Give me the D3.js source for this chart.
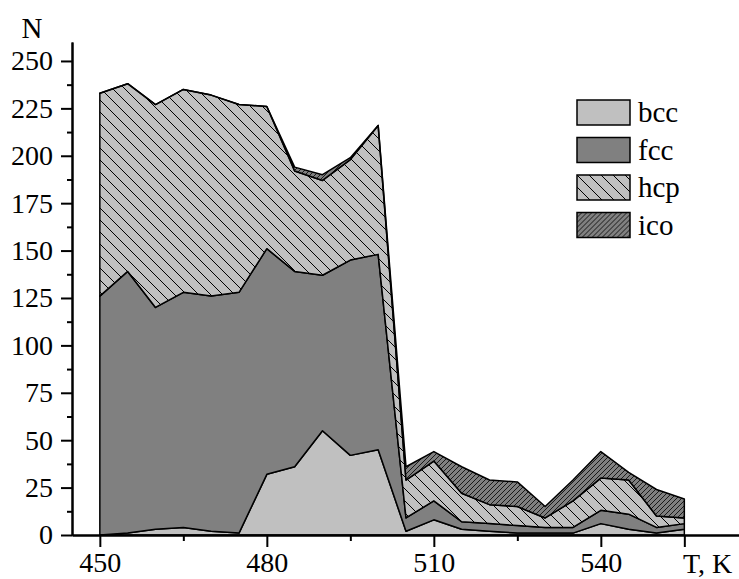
<!DOCTYPE html>
<html>
<head>
<meta charset="utf-8">
<script src="https://cdn.jsdelivr.net/npm/d3@7"></script>
<style>
body{margin:0;background:#fff;}
svg{display:block;}
text{font-family:"Liberation Serif","Times New Roman",serif;}
</style>
</head>
<body>
<svg id="chart"></svg>
<script>
//temperatures (K) and cluster counts per structure
var temps=[450,455,460,465,470,475,480,485,490,495,500,505,510,515,520,525,530,535,540,545,550,555]
var bcc=[0,1,3,4,2,1,32,36,55,42,45,2,8,3,2,1,1,1,6,3,1,3]
var fcc=[126,138,117,124,124,127,119,103,82,103,103,7,10,4,4,4,3,3,7,8,3,3]
var hcp=[107,99,107,107,106,99,75,53,50,53,68,20,21,15,10,10,5,14,17,18,6,3]
var ico=[0,0,0,0,0,0,0,2,3,1,0,7,5,14,13,13,6,11,14,4,14,10]

var phases=["bcc","fcc","hcp","ico"]
var yMajor=[0,25,50,75,100,125,150,175,200,225,250]
var yMinor=[12.5,37.5,62.5,87.5,112.5,137.5,162.5,187.5,212.5,237.5]
var xMajor=[450,480,510,540,555]
var xLabels=["450","480","510","540",""]
var xMinor=[465,495,525]

var screen={width:739,height:579}

var svg=d3.select("#chart")
    .attr("width",screen.width)
    .attr("height",screen.height)

//hatch patterns
var defs=svg.append("defs")
var hcpPat=defs.append("pattern")
    .attr("id","hcpHatch")
    .attr("patternUnits","userSpaceOnUse")
    .attr("width",12).attr("height",12)
hcpPat.append("rect").attr("width",12).attr("height",12).attr("fill","#c0c0c0")
hcpPat.append("path")
    .attr("d","M0,0L12,12M-2,10L2,14M10,-2L14,2")
    .attr("stroke","#000").attr("stroke-width",1)

var icoPat=defs.append("pattern")
    .attr("id","icoHatch")
    .attr("patternUnits","userSpaceOnUse")
    .attr("width",5).attr("height",5)
icoPat.append("rect").attr("width",5).attr("height",5).attr("fill","#808080")
icoPat.append("path")
    .attr("d","M0,5L5,0M-1,1L1,-1M4,6L6,4")
    .attr("stroke","#000").attr("stroke-width",0.8)

var fills={bcc:"#c0c0c0",fcc:"#808080",hcp:"url(#hcpHatch)",ico:"url(#icoHatch)"}

var xScale=d3.scaleLinear()
    .domain([445,565])
    .range([72,740])
var yScale=d3.scaleLinear()
    .domain([0,260])
    .range([535,42])

var rows=temps.map(function(t,i){
    return {T:t,bcc:bcc[i],fcc:fcc[i],hcp:hcp[i],ico:ico[i]}
})
var series=d3.stack().keys(phases)(rows)

var areaGen=d3.area()
    .x(function(d){return xScale(d.data.T)})
    .y0(function(d){return yScale(d[0])})
    .y1(function(d){return yScale(d[1])})

svg.append("g")
    .classed("layers",true)
    .selectAll("path")
    .data(series)
    .enter()
    .append("path")
    .attr("d",areaGen)
    .attr("fill",function(s){return fills[s.key]})
    .attr("stroke","#000")
    .attr("stroke-width",1.5)
    .attr("stroke-linejoin","round")

//axes
var styleAxis=function(g){
    g.attr("font-family",null)
    g.selectAll("path,line").attr("stroke","#000").attr("stroke-width",2)
    g.selectAll("text").attr("font-size",28).attr("fill","#000")
        .style("font-family","'Liberation Serif','Times New Roman',serif")
}

svg.append("g")
    .attr("transform","translate(72,0)")
    .call(d3.axisLeft(yScale).tickValues(yMajor).tickSize(11).tickSizeOuter(0).tickPadding(8))
    .call(styleAxis)
svg.append("g")
    .attr("transform","translate(72,0)")
    .call(d3.axisLeft(yScale).tickValues(yMinor).tickSize(5).tickSizeOuter(0).tickFormat(""))
    .call(styleAxis)

svg.append("g")
    .attr("transform","translate(0,535)")
    .call(d3.axisBottom(xScale).tickValues(xMajor).tickSize(12).tickSizeOuter(0).tickPadding(5)
        .tickFormat(function(d,i){return xLabels[i]}))
    .call(styleAxis)
svg.append("g")
    .attr("transform","translate(0,535)")
    .call(d3.axisBottom(xScale).tickValues(xMinor).tickSize(6).tickSizeOuter(0).tickFormat(""))
    .call(styleAxis)

svg.append("text")
    .attr("x",32).attr("y",38)
    .attr("text-anchor","middle")
    .attr("font-size",29)
    .text("N")
svg.append("text")
    .attr("x",683).attr("y",573)
    .attr("font-size",28)
    .text("T, K")

//legend
var legend=svg.append("g")
    .selectAll("g")
    .data(phases)
    .enter()
    .append("g")
    .attr("transform",function(d,i){return "translate(577,"+(100+i*37.5)+")"})
legend.append("rect")
    .attr("width",53).attr("height",25)
    .attr("fill",function(d){return fills[d]})
    .attr("stroke","#000").attr("stroke-width",1.5)
legend.append("text")
    .attr("x",61).attr("y",22)
    .attr("font-size",29)
    .text(function(d){return d})
</script>
</body>
</html>
